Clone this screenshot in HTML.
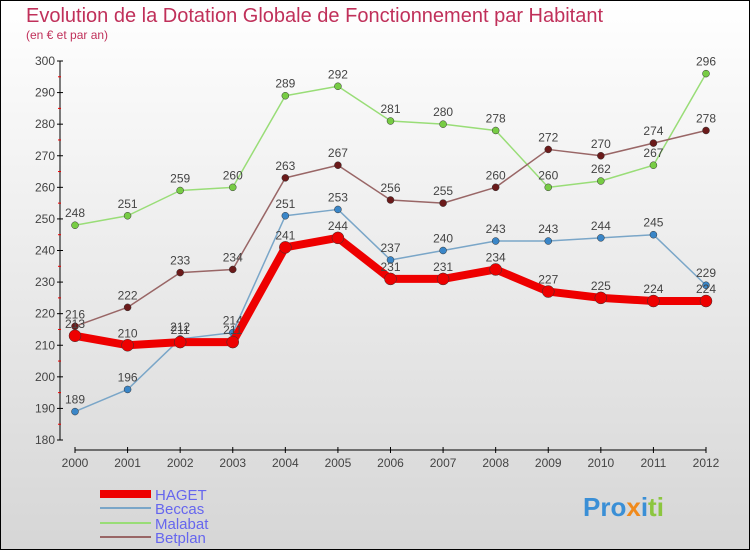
<!DOCTYPE html>
<html><head><meta charset="utf-8"><style>
body{margin:0}
#c{width:750px;height:550px;position:relative;overflow:hidden}
svg text{font-family:"Liberation Sans",sans-serif}
</style></head><body>
<div id="c">
<svg id="s" width="750" height="550" xmlns="http://www.w3.org/2000/svg">
<defs><linearGradient id="bg" x1="0" y1="0" x2="0" y2="1"><stop offset="0" stop-color="#ffffff"/><stop offset="1" stop-color="#d6d6d6"/></linearGradient></defs>
<rect x="0.5" y="0.5" width="749" height="549" fill="url(#bg)" stroke="#000"/>
<text x="26" y="22" font-size="20" fill="#c0305a">Evolution de la Dotation Globale de Fonctionnement par Habitant</text>
<text x="26" y="39" font-size="12" fill="#c0305a">(en € et par an)</text>
<g id="axes"></g><g id="series"></g>
<g>
<rect x="100" y="490" width="51" height="8" fill="#e00"/>
<text x="155" y="500" font-size="15" fill="#6666ee">HAGET</text>
<line x1="100" y1="508" x2="151" y2="508" stroke="#7aa6c8" stroke-width="2"/>
<text x="155" y="514" font-size="15" fill="#6666ee">Beccas</text>
<line x1="100" y1="523" x2="151" y2="523" stroke="#99dd77" stroke-width="2"/>
<text x="155" y="529" font-size="15" fill="#6666ee">Malabat</text>
<line x1="100" y1="537" x2="151" y2="537" stroke="#996666" stroke-width="2"/>
<text x="155" y="543" font-size="15" fill="#6666ee">Betplan</text>
</g>
<g font-size="26" font-weight="bold">
<text x="583" y="516"><tspan fill="#3a8fd6">Pro</tspan><tspan fill="#f08a1c">x</tspan><tspan fill="#3a8fd6">i</tspan><tspan fill="#8cc63f">ti</tspan></text>
</g>
</svg></div>
<script>
const years=["2000","2001","2002","2003","2004","2005","2006","2007","2008","2009","2010","2011","2012"];
const yTicks=[180,190,200,210,220,230,240,250,260,270,280,290,300];
const haget=[213,210,211,211,241,244,231,231,234,227,225,224,224];
const beccas=[189,196,212,214,251,253,237,240,243,243,244,245,229];
const malabat=[248,251,259,260,289,292,281,280,278,260,262,267,296];
const betplan=[216,222,233,234,263,267,256,255,260,272,270,274,278];
const NS="http://www.w3.org/2000/svg";
const X=i=>75+i*(706-75)/12;
const Y=v=>61+(300-v)*(440-61)/120;
function mk(t,a,p){const e=document.createElementNS(NS,t);for(const k in a)e.setAttribute(k,a[k]);p.appendChild(e);return e;}
const ax=document.getElementById('axes'),sg=document.getElementById('series');
let l=mk('line',{x1:60,y1:Y(300),x2:60,y2:Y(180),stroke:'#000'},ax);


yTicks.forEach(v=>{const y=Y(v);mk('line',{x1:57,y1:y,x2:63,y2:y,stroke:'#000'},ax);
mk('line',{x1:58,y1:y+15.8,x2:61,y2:y+15.8,stroke:v>180?'#e00':'none'},ax);
const t=mk('text',{x:55,y:y+4,'font-size':12,fill:'#444','text-anchor':'end'},ax);t.textContent=v;

});
l=mk('line',{x1:X(0),y1:450,x2:X(12),y2:450,stroke:'#000'},ax);


years.forEach((yr,i)=>{mk('line',{x1:X(i),y1:447,x2:X(i),y2:453,stroke:'#000'},ax);
const t=mk('text',{x:X(i),y:467,'font-size':12,fill:'#444','text-anchor':'middle'},ax);t.textContent=yr;

});
function series(d,name,col,dot,w,r){const g=mk('g',{},sg);


const pl=mk('polyline',{points:d.map((v,i)=>X(i)+','+Y(v)).join(' '),fill:'none',stroke:col,'stroke-width':w,'stroke-linejoin':'round'},g);


d.forEach((v,i)=>{const c=mk('circle',{cx:X(i),cy:Y(v),r:r,fill:dot,stroke:'#333','stroke-width':0.5},g);


const t=mk('text',{x:X(i),y:Y(v)-8,'font-size':12,fill:'#444','text-anchor':'middle'},g);t.textContent=v;

});}
series(beccas,'beccas','#7aa6c8','#3a86c8',1.5,3.5);
series(malabat,'malabat','#99dd77','#77cc44',1.5,3.5);
series(betplan,'betplan','#996666','#6b1a1a',1.5,3.5);
series(haget,'haget','#ee0000','#ee0000',8,6);
</script>
</body></html>
